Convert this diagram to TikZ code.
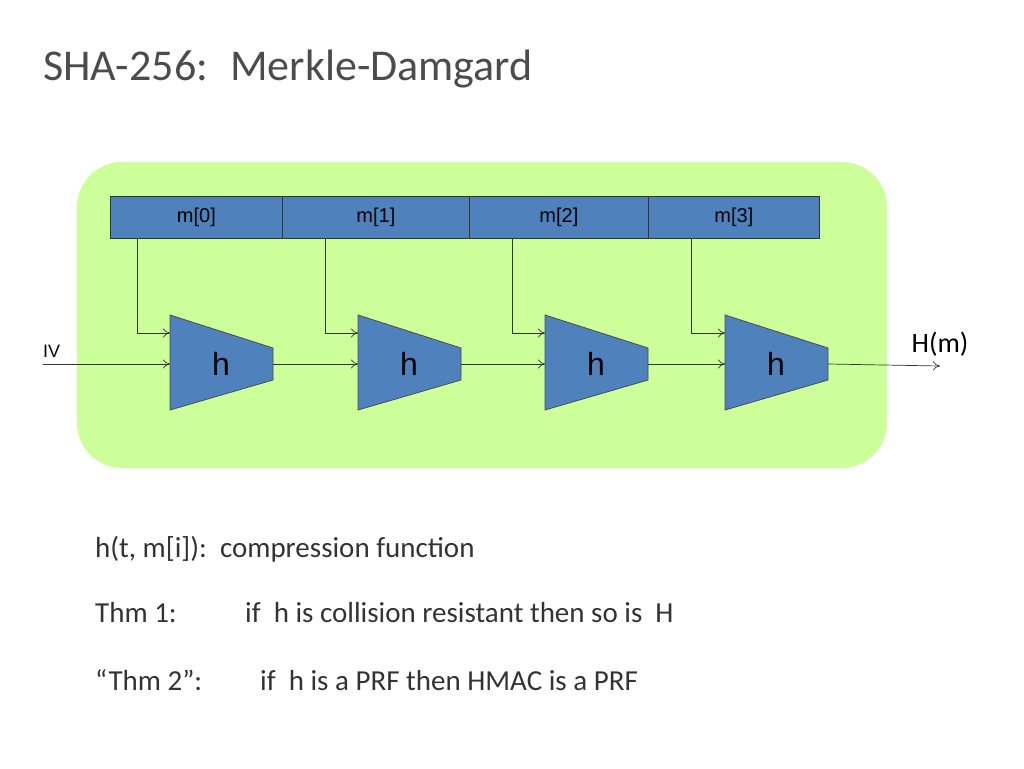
\documentclass[tikz,border=0pt]{standalone}
\usepackage{fontspec}
\usetikzlibrary{arrows.meta}
\setmainfont{Carlito}
\newfontfamily\arial{Liberation Sans}
\definecolor{bgreen}{RGB}{204,255,153}
\definecolor{bblue}{RGB}{79,129,189}
\begin{document}
\begin{tikzpicture}[x=1pt,y=-1pt,
  trap/.style={fill=bblue,draw=black!70,line width=0.8pt},
  seg/.style={draw=black!80,fill=bblue,line width=0.8pt,minimum height=42pt,inner sep=0pt,anchor=north west,font=\arial\fontsize{20}{22}\selectfont},
  ln/.style={draw=black!80,line width=0.7pt},
  ar/.style={ln,-{To[length=7pt,width=9pt]}},
  txt/.style={anchor=base west,inner sep=0pt,font=\fontsize{29}{32}\selectfont,text=black!80}]
\useasboundingbox (0,0) rectangle (1024,768);
\node[anchor=base west,inner sep=0pt,font=\fontsize{44}{48}\selectfont,text=black!70] (title) at (43,80) {SHA-256:\hspace{22pt}Merkle-Damgard};
\fill[bgreen,rounded corners=45pt] (77,162) rectangle (887,468);
\node[seg,minimum width=172pt] (m0) at (110,196) {m[0]};
\node[seg,minimum width=187pt] (m1) at (282,196) {m[1]};
\node[seg,minimum width=179pt] (m2) at (469,196) {m[2]};
\node[seg,minimum width=171pt] (m3) at (648,196) {m[3]};
\foreach \i/\x in {0/170,1/358,2/545,3/725}{
  \draw[trap] (\x,315) -- (\x+103,348) -- (\x+103,380) -- (\x,410) -- cycle;
  \node[font=\arial\fontsize{32}{34}\selectfont] (h\i) at (\x+51,364) {h};
  \coordinate (in\i) at (\x,333);
  \coordinate (ci\i) at (\x,364);
  \coordinate (co\i) at (\x+103,364);
}
\foreach \i/\x in {0/137,1/325,2/512,3/691}{
  \draw[ar] (\x,238) |- (in\i);
}
\node[anchor=base west,inner sep=0pt,font=\arial\fontsize{18}{20}\selectfont] (iv) at (43,357) {IV};
\coordinate (ivs) at (43,364);
\draw[ar] (ivs) -- (ci0);
\draw[ar] (co0) -- (ci1);
\draw[ar] (co1) -- (ci2);
\draw[ar] (co2) -- (ci3);
\coordinate (out) at (940,366);
\draw[ar] (co3) -- (out);
\node[anchor=base,inner sep=0pt,font=\fontsize{28}{30}\selectfont] (hm) at (940,352) {H(m)};
\node[txt] (l1) at (95,557) {h(t, m[i]):\ \ compression function};
\node[txt] (l2a) at (95,622) {Thm 1:};
\node[txt] (l2b) at (245,622) {if\ \ h is collision resistant then so is\ \ H};
\node[txt] (l3a) at (95,690) {“Thm 2”:};
\node[txt] (l3b) at (260,690) {if\ \ h is a PRF then HMAC is a PRF};
\end{tikzpicture}
\end{document}
